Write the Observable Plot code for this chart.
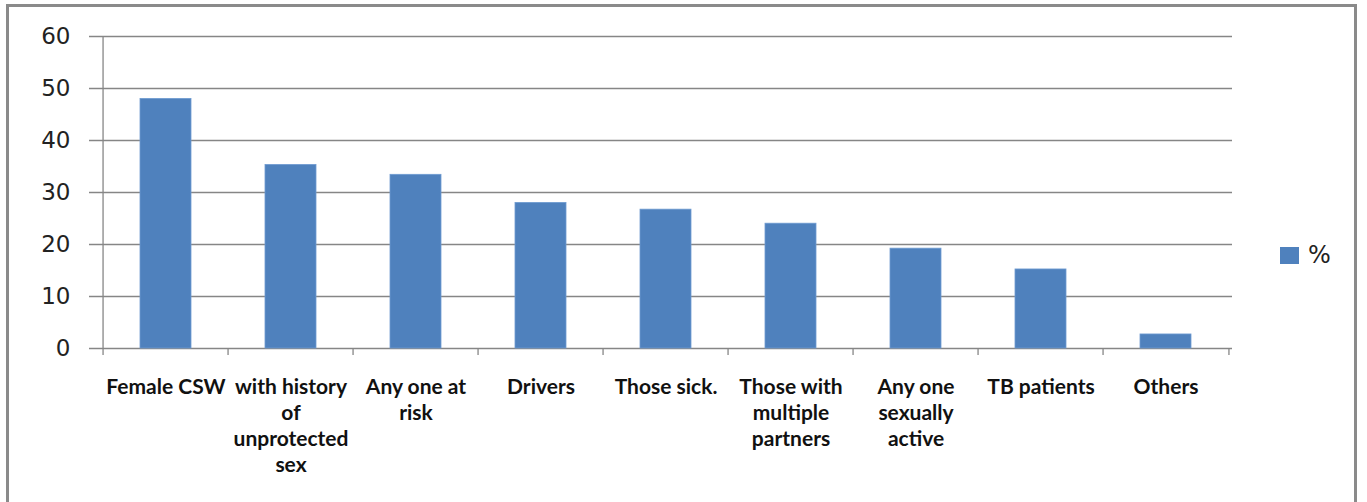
<!DOCTYPE html>
<html>
<head>
<meta charset="utf-8">
<script src="https://cdn.jsdelivr.net/npm/d3@7"></script>
<script src="https://cdn.jsdelivr.net/npm/@observablehq/plot@0.6"></script>
<style>
  html, body { margin: 0; padding: 0; background: #fff; overflow: hidden; }
  #wrap { position: relative; width: 1367px; height: 502px; }
  #border { position: absolute; left: 6px; top: 4px; width: 1351px; height: 520px; border: 3px solid #8a8a8a; box-sizing: border-box; pointer-events: none; }
  #legend { position: absolute; left: 1280px; top: 241px; display: flex; align-items: center; font-family: "DejaVu Sans", sans-serif; font-size: 24px; color: #222; }
  #legend .sw { width: 19px; height: 17px; background: #4F81BD; margin-right: 9px; }
</style>
</head>
<body>
<div id="wrap">
  <div id="chart"></div>
  <div id="border"></div>
  <div id="legend"><div class="sw"></div><span>%</span></div>
</div>
<script>
const categories = [
  "Female CSW",
  "with history of unprotected sex",
  "Any one at risk",
  "Drivers",
  "Those sick.",
  "Those with multiple partners",
  "Any one sexually active",
  "TB patients",
  "Others"
];
const tickLabels = [
  "Female CSW",
  "with history\nof\nunprotected\nsex",
  "Any one at\nrisk",
  "Drivers",
  "Those sick.",
  "Those with\nmultiple\npartners",
  "Any one\nsexually\nactive",
  "TB patients",
  "Others"
];
const values = [48.0, 35.3, 33.4, 28.0, 26.7, 24.0, 19.2, 15.2, 2.7];
const yTicks = [0, 10, 20, 30, 40, 50, 60];

const data = categories.map((c, i) => ({category: c, value: values[i]}));
const labelOf = new Map(categories.map((c, i) => [c, tickLabels[i]]));

const W = 1367, H = 502;
const mL = 99, mR = 135, mT = 36, mB = 154;
const step = (W - mL - mR) / categories.length;
const gridColor = "#868686";
const pad = 0.595;

const chart = Plot.plot({
  width: W,
  height: H,
  marginLeft: mL,
  marginRight: mR,
  marginTop: mT,
  marginBottom: mB,
  style: {background: "transparent", overflow: "visible"},
  x: {domain: categories, paddingInner: pad, paddingOuter: pad / 2, align: 0.5, label: null},
  y: {domain: [0, 60], label: null},
  marks: [
    Plot.gridY(yTicks, {stroke: gridColor, strokeOpacity: 1, strokeWidth: 1.3, insetLeft: -10}),
    Plot.ruleX(categories.slice(0, 1), {dx: -step / 2, stroke: gridColor, strokeWidth: 1.3}),
    Plot.barY(data, {x: "category", y: "value", fill: "#4F81BD", stroke: "#6f9bd1", strokeWidth: 0.8}),
    Plot.axisY(yTicks, {
      tickSize: 0, tickPadding: 29,
      fontSize: 23, fontFamily: "DejaVu Sans, sans-serif", fill: "#222"
    }),
    Plot.axisX(categories, {
      tickSize: 7, dx: -step / 2, tickFormat: () => "", stroke: gridColor, strokeWidth: 1.3
    }),
    Plot.axisX(categories.slice(-1), {
      tickSize: 7, dx: step / 2, tickFormat: () => "", stroke: gridColor, strokeWidth: 1.3
    }),
    Plot.axisX(categories, {
      tickSize: 0, tickPadding: 27,
      tickFormat: (d) => labelOf.get(d),
      fontSize: 21, fontWeight: "bold", fontFamily: "Lato, sans-serif", fill: "#111",
      lineHeight: 1.24
    })
  ]
});
document.getElementById("chart").appendChild(chart);
</script>
</body>
</html>
